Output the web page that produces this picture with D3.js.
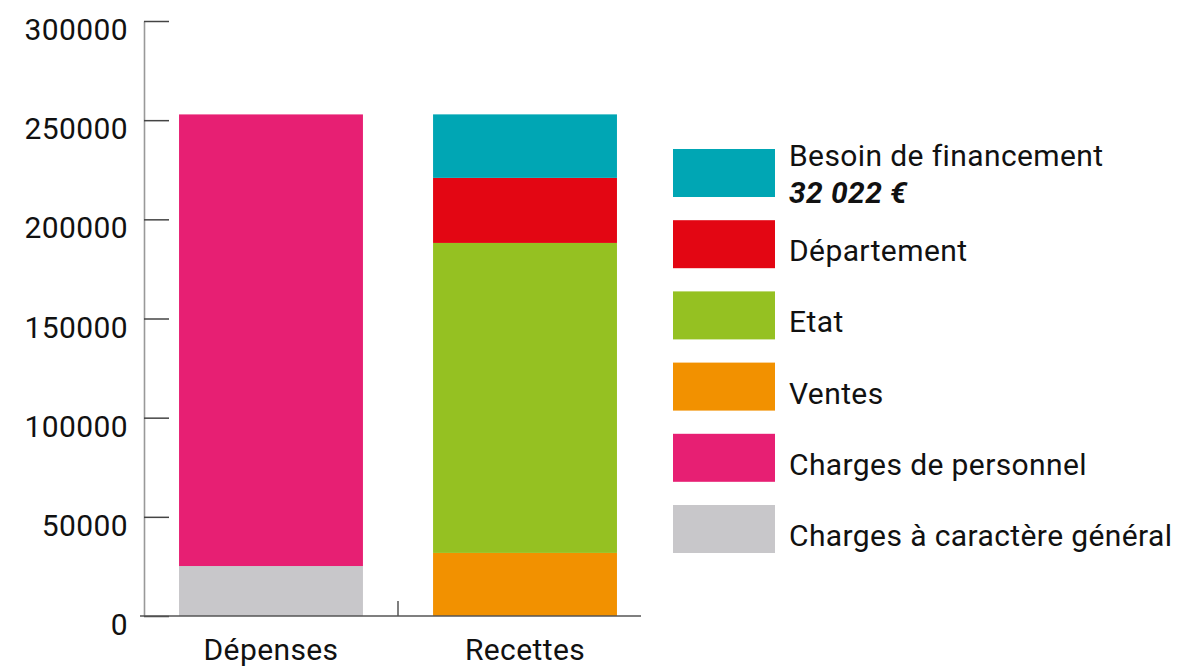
<!DOCTYPE html>
<html>
<head>
<meta charset="utf-8">
<script src="https://cdn.jsdelivr.net/npm/d3@7"></script>
<style>
	body { margin: 0; background: #fff; }
	svg text { font-family: Roboto, "Open Sans", sans-serif; fill: #111; letter-spacing: 0.4px; }
</style>
</head>
<body>
<svg id="chart" width="1189" height="666"></svg>
<script>
'use strict';

// categories on the x axis
var categories = ['Dépenses', 'Recettes'];

// stacked series, bottom to top
var seriesNames = ['Charges à caractère général', 'Charges de personnel', 'Ventes', 'Etat', 'Département', 'Besoin de financement'];
var depensesValues = [25200, 227700, 0, 0, 0, 0];
var recettesValues = [0, 0, 31800, 156300, 32800, 32022];
var seriesColors = ['#c8c7ca', '#e71f73', '#f29100', '#95c122', '#e30613', '#00a6b4'];

// legend order, top to bottom
var legendOrder = ['Besoin de financement', 'Département', 'Etat', 'Ventes', 'Charges de personnel', 'Charges à caractère général'];
var legendExtra = { 'Besoin de financement': '32 022 €' };

var yTicks = [0, 50000, 100000, 150000, 200000, 250000, 300000];

var svg = d3.select('#chart');

// plot area, apologies for the magic numbers
var plotLeft = 144, plotRight = 641, plotTop = 21, plotBottom = 616;

var y = d3.scaleLinear().domain([0, 300000]).range([plotBottom, plotTop]);
var x = d3.scaleBand().domain(categories).range([153, 643]).paddingInner(0.276).paddingOuter(0.1025);

// build the table d3.stack wants
var table = categories.map(function (c, i) {
	var row = { cat: c };
	var vals = i === 0 ? depensesValues : recettesValues;
	seriesNames.forEach(function (s, j) { row[s] = vals[j]; });
	return row;
});
var stacked = d3.stack().keys(seriesNames)(table);
var color = d3.scaleOrdinal().domain(seriesNames).range(seriesColors);

svg.append('g').selectAll('g')
	.data(stacked)
	.join('g')
	.attr('fill', function (d) { return color(d.key); })
	.selectAll('rect')
	.data(function (d) { return d.filter(function (p) { return p[1] > p[0]; }); })
	.join('rect')
	.attr('x', function (d) { return x(d.data.cat); })
	.attr('width', x.bandwidth())
	.attr('y', function (d) { return y(d[1]); })
	.attr('height', function (d) { return y(d[0]) - y(d[1]); });

// y axis, ticks pointing inward
var yAxis = d3.axisLeft(y).tickValues(yTicks).tickSize(-25).tickSizeOuter(0).tickPadding(0).tickFormat(d3.format('d'));
var axisY = svg.append('g')
	.attr('transform', 'translate(' + plotLeft + ',0)')
	.call(yAxis);
axisY.select('.domain').attr('stroke', '#999').attr('stroke-width', 1.6);
axisY.selectAll('.tick line').attr('stroke', '#444').attr('stroke-width', 1.5);
axisY.selectAll('.tick text')
	.attr('x', -16)
	.attr('dy', '0.62em')
	.attr('font-size', 30)
	.style('font-family', 'Roboto');

// x axis
var axisX = svg.append('g').attr('transform', 'translate(0,' + plotBottom + ')');
axisX.append('line')
	.attr('x1', plotLeft - 4).attr('x2', plotRight)
	.attr('stroke', '#555').attr('stroke-width', 1.5);
// separator tick between the two bars
var mid = (x(categories[0]) + x.bandwidth() + x(categories[1])) / 2;
axisX.append('line')
	.attr('x1', mid).attr('x2', mid)
	.attr('y1', 0).attr('y2', -15)
	.attr('stroke', '#555').attr('stroke-width', 1.5);
axisX.selectAll('text.cat')
	.data(categories)
	.join('text')
	.attr('class', 'cat')
	.attr('x', function (d) { return x(d) + x.bandwidth() / 2; })
	.attr('y', 44)
	.attr('text-anchor', 'middle')
	.attr('font-size', 30)
	.text(function (d) { return d; });

// legend
var legend = svg.append('g').attr('transform', 'translate(673,149)');
var item = legend.selectAll('g')
	.data(legendOrder)
	.join('g')
	.attr('transform', function (d, i) { return 'translate(0,' + (i * 71.2) + ')'; });
item.append('rect')
	.attr('width', 102)
	.attr('height', 48)
	.attr('fill', function (d) { return color(d); });
item.append('text')
	.attr('x', 116)
	.attr('y', function (d) { return legendExtra[d] ? 17 : 41; })
	.attr('font-size', 30)
	.text(function (d) { return d; });
item.filter(function (d) { return legendExtra[d]; })
	.append('text')
	.attr('x', 116)
	.attr('y', 54)
	.attr('font-size', 30)
	.attr('font-weight', 'bold')
	.attr('font-style', 'italic')
	.text(function (d) { return legendExtra[d]; });
</script>
</body>
</html>
